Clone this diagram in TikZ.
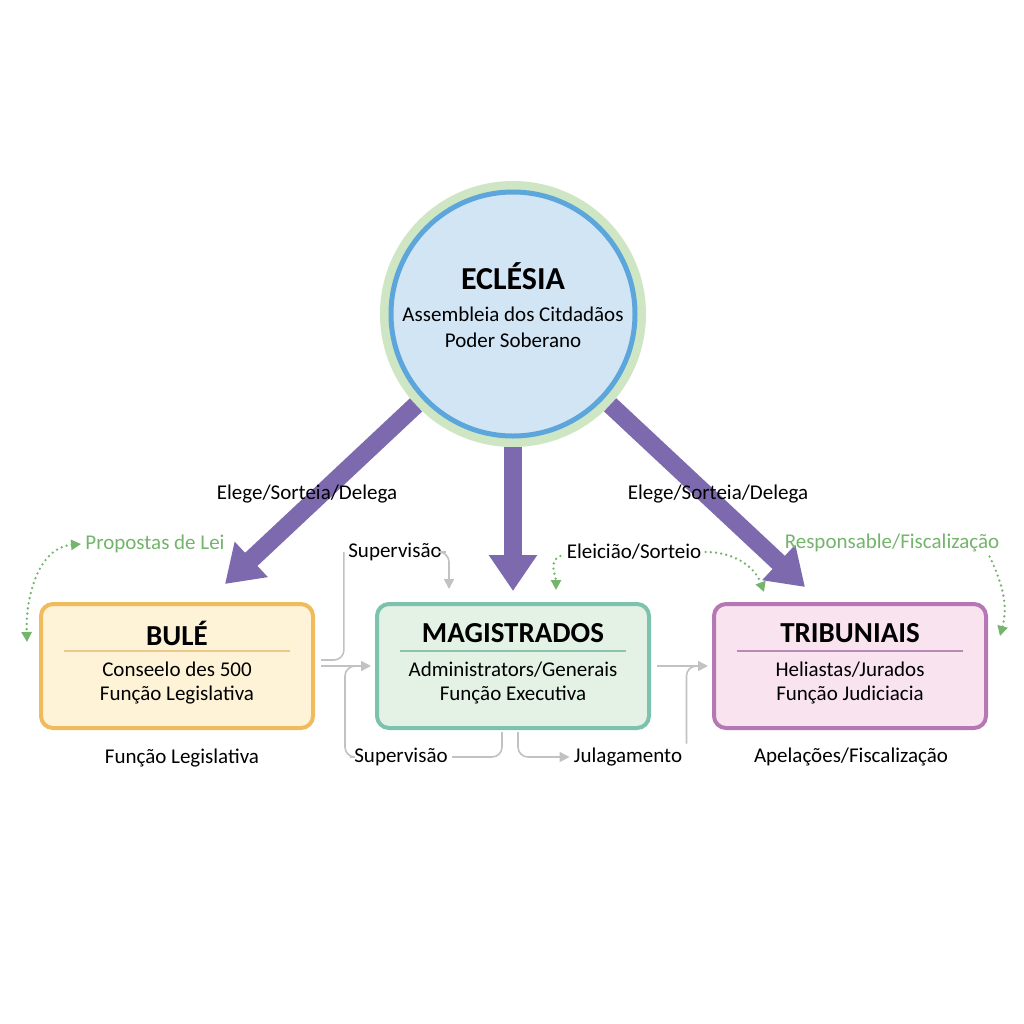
\documentclass[tikz,border=0pt]{standalone}
\usepackage{fontspec}
\setmainfont{Carlito}
\usetikzlibrary{
    positioning,
    arrows.meta,
    calc
}
\definecolor{arrowPurple}{RGB}{125, 106, 174}
\definecolor{eclFill}{RGB}{210, 229, 245}
\definecolor{eclBlue}{RGB}{92, 166, 220}
\definecolor{eclRing}{RGB}{207, 230, 196}
\definecolor{buleEdge}{RGB}{240, 187, 92}
\definecolor{buleFill}{RGB}{254, 243, 214}
\definecolor{buleRule}{RGB}{235, 201, 138}
\definecolor{magEdge}{RGB}{124, 194, 174}
\definecolor{magFill}{RGB}{228, 242, 229}
\definecolor{magRule}{RGB}{140, 196, 176}
\definecolor{tribEdge}{RGB}{182, 120, 181}
\definecolor{tribFill}{RGB}{248, 227, 239}
\definecolor{tribRule}{RGB}{185, 138, 184}
\definecolor{lineGray}{RGB}{194, 194, 194}
\definecolor{dotGreen}{RGB}{116, 180, 108}

\begin{document}
\begin{tikzpicture}[x=0.5pt, y=-0.5pt, >=Stealth,
    font=\fontsize{10.5}{13}\selectfont,
    eclCircle/.style={circle, minimum size=122pt, inner sep=0pt,
        fill=eclFill, draw=eclBlue, line width=2.5pt, outer sep=5.5pt,
        preaction={draw=eclRing, line width=11pt}},
    branchBox/.style n args={2}{rectangle, rounded corners=6pt, line width=2pt,
        minimum width=136pt, minimum height=62pt, draw=#1, fill=#2},
    boxTitle/.style={font=\fontsize{14.5}{17}\selectfont\bfseries},
    boxBody/.style={align=center, font=\fontsize{10.5}{12}\selectfont},
    label/.style={inner sep=2pt},
    greenLabel/.style={inner sep=2pt, text=dotGreen},
    delegArrow/.style={line width=9pt, draw=arrowPurple,
        -{Triangle[width=23pt, length=18pt]}},
    grayLine/.style={draw=lineGray, line width=0.8pt, rounded corners=5pt},
    grayArrow/.style={grayLine, -{Triangle[width=5pt, length=5pt]}},
    greenDots/.style={draw=dotGreen, line width=1.3pt, line cap=round,
        dash pattern=on 0pt off 2.6pt},
    greenTip/.style={-{Triangle[width=5pt, length=5pt]}}
]
    % fondo
    \fill[white] (0,0) rectangle (1024,1024);
    \useasboundingbox (0,0) rectangle (1024,1024);

    % Eclésia
    \node[eclCircle] (ecl) at (513,314) {};
    \node[align=center] (eclText) at ($(ecl.center)+(0,-9)$)
        {{\fontsize{16}{18}\selectfont\bfseries ECLÉSIA}\\[3pt]
         Assembleia dos Citdadãos\\ Poder Soberano};

    % tres poderes
    \node[branchBox={buleEdge}{buleFill}] (bule) at (177,666) {};
    \node[branchBox={magEdge}{magFill}] (mag) at (513,666) {};
    \node[branchBox={tribEdge}{tribFill}] (trib) at (850,666) {};

    \node[boxTitle] (buleTitle) at ($(bule.north)+(0,31)$) {BULÉ};
    \node[boxTitle] (magTitle) at ($(mag.north)+(0,31)$) {MAGISTRADOS};
    \node[boxTitle] (tribTitle) at ($(trib.north)+(0,31)$) {TRIBUNIAIS};
    \draw[buleRule, line width=0.8pt] ($(bule.north)+(-113,49)$) -- ($(bule.north)+(113,49)$);
    \draw[magRule, line width=0.8pt] ($(mag.north)+(-113,49)$) -- ($(mag.north)+(113,49)$);
    \draw[tribRule, line width=0.8pt] ($(trib.north)+(-113,49)$) -- ($(trib.north)+(113,49)$);
    \node[boxBody] (buleBody) at ($(bule.north)+(0,81)$) {Conseelo des 500\\Função Legislativa};
    \node[boxBody] (magBody) at ($(mag.north)+(0,81)$) {Administrators/Generais\\Função Executiva};
    \node[boxBody] (tribBody) at ($(trib.north)+(0,81)$) {Heliastas/Jurados\\Função Judiciacia};

    % delegação
    \coordinate (tipL) at ($(bule.north)+(48,-18)$);
    \coordinate (tipM) at ($(mag.north)+(0,-11)$);
    \coordinate (tipR) at ($(trib.north)+(-45,-15)$);
    \draw[delegArrow] (ecl) -- (tipL);
    \draw[delegArrow] (ecl) -- (tipM);
    \draw[delegArrow] (ecl) -- (tipR);
    \node[label] (elegeL) at (307,494) {Elege/Sorteia/Delega};
    \node[label] (elegeR) at (718,494) {Elege/Sorteia/Delega};

    % rótulos
    \node[greenLabel] (prop) at (155,544) {Propostas de Lei};
    \node[greenLabel] (resp) at (892,543) {Responsable/Fiscalização};
    \node[label] (elei) at (634,552) {Eleicião/Sorteio};
    \node[label] (supTop) at (395,552) {Supervisão};
    \node[label] (legBot) at (182,758) {Função Legislativa};
    \node[label] (supBot) at (401,757) {Supervisão};
    \node[label] (julag) at (628,757) {Julagamento};
    \node[label] (apel) at (851,757) {Apelações/Fiscalização};

    % conexões cinzas
    \draw[grayLine] (supTop.west) |- ($(bule.east)+(6,-6)$);
    \draw[grayArrow] (supTop.east) -| ($(mag.north west)+(74,-13)$);
    \draw[grayArrow, shorten <=3pt, shorten >=2pt] (bule.east) -- (mag.west);
    \draw[grayLine] (supBot.west) -| ($(mag.west)+(-30,0)$) -- ($(mag.west)+(-14,0)$);
    \draw[grayLine] (supBot.east) -| ($(mag.south)+(-11,2)$);
    \draw[grayArrow] ($(mag.south)+(5,2)$) |- (julag.west);
    \draw[grayArrow, shorten <=3pt, shorten >=2pt] (mag.east) -- (trib.west);
    \draw[grayLine] (julag.north east) |- ($(trib.west)+(-14,0)$);

    % pontilhados verdes
    \draw[greenDots, {Triangle[width=5pt, length=5pt]}-{Triangle[width=5pt, length=5pt]}]
        (prop.west) to[out=185, in=92] ($(bule.west)+(-12,-24)$);
    \draw[greenDots, greenTip] ($(resp.south east)+(-14,0)$) to[out=-65, in=75] ($(trib.east)+(12,-30)$);
    \draw[greenDots, greenTip] ($(elei.west)+(-2,4)$) to[out=200, in=90] ($(mag.north)+(43,-12)$);
    \draw[greenDots, greenTip] (elei.east) to[out=0, in=110] ($(trib.north west)+(52,-10)$);
\end{tikzpicture}
\end{document}
